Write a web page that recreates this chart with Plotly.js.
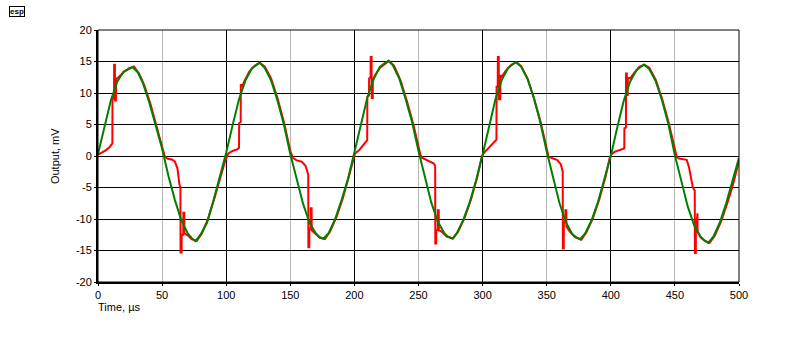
<!DOCTYPE html>
<html>
<head>
<meta charset="utf-8">
<script src="https://cdn.plot.ly/plotly-3.0.1.min.js"></script>
<style>
  html, body { margin: 0; padding: 0; background: #ffffff; }
  #chart { width: 800px; height: 340px; }
</style>
</head>
<body>
<div id="chart"></div>
<script>
// ---- Data ----
const xTicks = [0, 50, 100, 150, 200, 250, 300, 350, 400, 450, 500];
const yTicks = [-20, -15, -10, -5, 0, 5, 10, 15, 20];
const xTitle = "Time, \u00b5s";
const yTitle = "Output, mV";

// Green trace (reference waveform)
const greenTime = [
  0, 5, 10, 15, 20, 24, 27, 31, 35, 40, 45, 50, 55, 60, 65, 70, 73, 76, 80, 85, 90, 95,
  100, 105, 110, 115, 120, 124, 126, 130, 135, 140, 145, 150, 155, 160, 165, 170, 173, 176, 180, 185, 190, 195,
  200, 205, 210, 215, 220, 224, 226.5, 230, 235, 240, 245, 250, 255, 260, 265, 270, 273, 276.5, 280, 285, 290, 295,
  300, 305, 310, 315, 320, 323, 326, 330, 335, 340, 345, 350, 355, 360, 365, 370, 373, 376, 380, 385, 390, 395,
  400, 405, 410, 415, 420, 423, 426, 430, 435, 440, 445, 450, 455, 460, 465, 470, 473, 476, 480, 485, 490, 495, 500
];
const greenOut = [
  0.3, 4.6, 8.8, 11.8, 13.4, 13.8, 14.1, 13.3, 11.6, 8.5, 5.0, 1.2, -3.2, -7.0, -10.2, -12.3, -13.0, -13.5, -12.5, -10.6, -7.1, -3.4,
  0.5, 4.9, 9.0, 12.0, 13.9, 14.5, 14.8, 14.0, 12.0, 8.8, 5.0, 0.3, -3.8, -7.6, -10.6, -12.3, -12.9, -13.1, -12.2, -10.0, -7.0, -3.6,
  0.6, 5.0, 9.2, 12.2, 14.2, 14.8, 15.1, 14.4, 12.3, 9.0, 5.4, 0.8, -3.5, -7.4, -10.4, -12.2, -12.8, -13.1, -12.2, -10.1, -7.3, -3.8,
  0.2, 4.8, 9.0, 12.1, 14.0, 14.5, 14.9, 14.2, 12.3, 9.2, 5.4, 0.7, -3.6, -7.5, -10.5, -12.4, -12.9, -13.2, -12.3, -10.2, -7.3, -3.8,
  0.0, 4.5, 8.7, 11.8, 13.6, 14.1, 14.5, 13.8, 11.9, 8.8, 5.0, 0.1, -4.2, -8.0, -11.0, -12.8, -13.4, -13.8, -12.8, -10.6, -7.5, -4.0, -0.3
];

// Red trace (output with crossover glitches)
const redTime = [
  0, 3, 6, 9, 11.2, 11.3, 12.5, 12.6, 13.2, 13.3, 14.0, 14.1, 15.0, 16, 20, 24, 28, 32, 36, 41, 46, 50, 52, 54, 58, 60, 62, 63.5, 64.3, 64.4, 65.2, 65.3, 66.5, 66.6, 67.3, 67.4, 70, 73, 77, 81, 86, 91, 96, 99,
  101.6, 105, 108.9, 110, 110.1, 111.3, 111.4, 112.5, 114, 118, 122, 126, 130, 135, 140, 145, 150, 152, 155, 159, 162, 163, 164, 164.1, 164.8, 164.9, 165.9, 166, 166.6, 166.7, 170, 173, 177, 181, 186, 191, 196,
  200.5, 204, 208.3, 210, 210.1, 211.4, 211.5, 212.6, 212.7, 213.4, 213.5, 214.3, 214.4, 216, 220, 224, 227, 231, 236, 241, 246, 250, 251.5, 253, 256, 259, 262, 263, 263.1, 263.8, 263.9, 265, 265.1, 265.8, 265.9, 268, 272, 277, 281, 286, 291, 296, 299,
  300.6, 305, 309.7, 310.8, 310.9, 311.8, 311.9, 312.6, 312.7, 313.8, 313.9, 315, 318, 322, 326, 330, 335, 340, 345, 350, 351.5, 355, 358, 361, 362.5, 362.6, 363.3, 363.4, 364.5, 364.6, 365.3, 365.4, 368, 372, 377, 381, 386, 391, 396, 399,
  400.5, 403.3, 406.5, 409.8, 410.5, 410.6, 411.8, 411.9, 412.5, 412.6, 413.2, 413.3, 415, 418, 422, 426, 430, 435, 440, 445, 450, 451.5, 453.2, 456, 459.2, 461, 462.6, 464, 465.5, 465.6, 466.3, 466.4, 467.0, 467.1, 467.6, 467.7, 470, 473, 477, 481, 486, 491, 495, 500
];
const redOut = [
  0.2, 0.5, 0.9, 1.4, 2.0, 9.0, 9.2, 14.5, 14.5, 8.8, 8.8, 12.3, 12.3, 12.5, 13.3, 13.9, 14.2, 13.1, 11.3, 8.2, 4.6, 1.6, 0.0, -0.4, -0.6, -0.9, -2.0, -4.5, -5.0, -15.3, -15.3, -12.5, -12.5, -9.0, -9.0, -12.3, -12.6, -13.2, -13.5, -12.3, -9.9, -6.6, -3.0, -0.9,
  0.4, 0.8, 1.1, 1.3, 5.2, 5.4, 11.4, 11.0, 11.8, 13.4, 14.3, 14.8, 14.2, 12.3, 9.2, 5.4, 0.8, -0.3, -0.7, -0.9, -1.6, -2.5, -3.0, -14.5, -14.5, -11.5, -11.5, -8.3, -8.3, -11.8, -12.4, -13.0, -13.2, -12.0, -9.7, -6.7, -3.0,
  0.4, 1.0, 2.0, 2.5, 9.4, 9.6, 12.3, 12.5, 15.7, 15.7, 9.2, 9.2, 12.0, 12.8, 14.0, 14.7, 15.1, 14.3, 12.0, 8.7, 5.0, 1.5, 0.2, -0.3, -0.6, -0.8, -1.2, -1.6, -13.9, -13.9, -11.8, -11.8, -8.6, -8.6, -11.8, -12.0, -12.8, -13.1, -12.0, -9.8, -6.9, -3.2, -0.4,
  0.4, 1.4, 2.3, 2.6, 11.0, 11.0, 15.7, 15.7, 9.0, 9.0, 12.8, 12.6, 13.5, 14.4, 14.9, 14.3, 12.3, 9.2, 5.6, 1.2, -0.1, -0.4, -0.6, -1.3, -2.5, -14.7, -14.7, -10.5, -10.5, -8.6, -8.6, -11.2, -12.0, -12.9, -13.3, -12.1, -9.9, -6.9, -3.2, -0.4,
  0.3, 0.7, 0.9, 1.1, 1.2, 4.4, 4.5, 13.1, 13.1, 9.7, 9.7, 12.5, 12.3, 13.1, 14.1, 14.5, 14.0, 12.1, 9.1, 5.4, 0.8, -0.2, -0.4, -0.5, -0.6, -1.8, -3.8, -5.0, -5.5, -15.4, -15.4, -10.5, -10.5, -9.1, -9.1, -12.0, -12.9, -13.4, -13.8, -12.7, -10.4, -7.4, -4.8, -0.8
];

// ---- Chart ----
const FONT = "Liberation Sans, Arial, Helvetica, sans-serif";

// Black vertical grid at the major (every 100) positions, gray at the others
const majorX = xTicks.filter(v => v % 100 === 0 && v > xTicks[0] && v < xTicks[xTicks.length - 1]);

const traces = [
  { x: [], y: [], xaxis: "x2", yaxis: "y", type: "scatter", mode: "lines",
    hoverinfo: "skip", showlegend: false },
  { x: redTime, y: redOut, type: "scatter", mode: "lines",
    line: { color: "#ff0000", width: 2 }, hoverinfo: "skip", showlegend: false },
  { x: greenTime, y: greenOut, type: "scatter", mode: "lines",
    line: { color: "#008000", width: 2 }, hoverinfo: "skip", showlegend: false }
];

const shapes = [{
  type: "rect", xref: "paper", yref: "paper", x0: 0, x1: 1, y0: 0, y1: 1,
  line: { color: "#000000", width: 1 }, layer: "above"
}];

const layout = {
  width: 800, height: 340,
  margin: { l: 98, r: 61, t: 30, b: 58, pad: 0 },
  paper_bgcolor: "#ffffff", plot_bgcolor: "#ffffff",
  font: { family: FONT, size: 11, color: "#000000" },
  showlegend: false,
  xaxis: {
    range: [0, 500], tickmode: "array", tickvals: xTicks, ticktext: xTicks.map(String),
    showgrid: true, gridcolor: "#b4b4b4", gridwidth: 1, zeroline: false,
    showline: true, linecolor: "#000000", linewidth: 2,
    ticks: "outside", ticklen: 2, tickwidth: 1, tickcolor: "#000000",
    tickfont: { family: FONT, size: 11, color: "#000000" }, fixedrange: true
  },
  xaxis2: {
    overlaying: "x", matches: "x", range: [0, 500], tickmode: "array", tickvals: majorX,
    showticklabels: false, showgrid: true, gridcolor: "#000000", gridwidth: 1,
    zeroline: false, showline: false, ticks: "", fixedrange: true
  },
  yaxis: {
    range: [-20, 20], tickmode: "array", tickvals: yTicks, ticktext: yTicks.map(String),
    showgrid: true, gridcolor: "#000000", gridwidth: 1, zeroline: false,
    showline: true, linecolor: "#000000", linewidth: 2,
    ticks: "outside", ticklen: 2, tickwidth: 1, tickcolor: "#000000",
    tickfont: { family: FONT, size: 11, color: "#000000" }, fixedrange: true
  },
  shapes: shapes,
  annotations: [
    { text: xTitle, xref: "paper", yref: "paper", x: -0.003, y: -0.066, xanchor: "left", yanchor: "top",
      showarrow: false, font: { family: FONT, size: 11, color: "#000000" } },
    { text: yTitle, xref: "paper", yref: "paper", x: -0.067, y: 0.5, xanchor: "center", yanchor: "middle",
      textangle: -90, showarrow: false, font: { family: FONT, size: 11, color: "#000000" } },
    { text: "<b>esp</b>", xref: "paper", yref: "paper", x: -0.126, y: 1.075, xanchor: "center", yanchor: "middle",
      showarrow: false, font: { family: FONT, size: 8, color: "#000000" },
      bordercolor: "#000000", borderwidth: 1, borderpad: 0 }
  ]
};

Plotly.newPlot("chart", traces, layout, { displayModeBar: false, staticPlot: true });
</script>
</body>
</html>
